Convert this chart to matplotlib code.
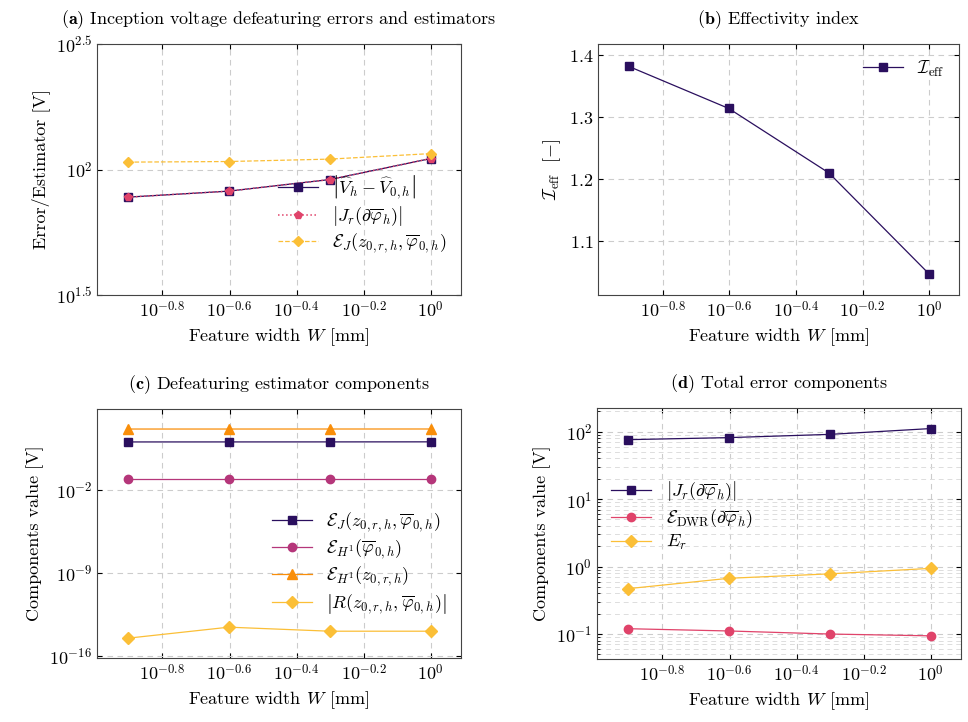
import matplotlib
matplotlib.use("Agg")
import matplotlib.pyplot as plt
import numpy as np

plt.rcParams.update({
    "font.family": "serif", "font.serif": ["cmr10"], "mathtext.fontset": "cm",
    "axes.formatter.use_mathtext": True, "font.size": 13,
    "xtick.direction": "in", "ytick.direction": "in",
    "axes.edgecolor": "#444444", "axes.unicode_minus": False,
})

W = [0.125, 0.25, 0.5, 1.0]
err_a = [77.6, 82.0, 91.2, 110.6]
jr_a = [77.6, 82.0, 91.2, 110.6]
est_a = [107.0, 107.6, 110.0, 115.7]
ieff = [1.382, 1.314, 1.210, 1.047]
ej_c = [105.0, 105.5, 106.0, 107.0]
eh1phi_c = [0.085, 0.085, 0.085, 0.085]
eh1z_c = [1290.0, 1290.0, 1295.0, 1300.0]
r_c = [10**-14.53, 10**-13.6, 10**-13.94, 10**-13.94]
jr_d = [76.0, 81.5, 91.0, 111.0]
dwr_d = [0.12, 0.111, 0.10, 0.094]
er_d = [0.47, 0.67, 0.78, 0.94]

xt = [10**-0.8, 10**-0.6, 10**-0.4, 10**-0.2, 1.0]
xtl = [r"$10^{-0.8}$", r"$10^{-0.6}$", r"$10^{-0.4}$", r"$10^{-0.2}$", r"$10^{0}$"]

C1 = "#2a0f5e"; C2 = "#e0436a"; C3 = "#fbbf37"; C4 = "#b5367a"; C5 = "#f98e09"

fig = plt.figure(figsize=(9.68, 7.22), dpi=100)
def mk(l, b, r, t):
    return fig.add_axes([l/968, 1-b/722, (r-l)/968, (b-t)/722])
axa = mk(97, 295, 461, 44); axb = mk(598, 295, 959, 44)
axc = mk(97, 658, 461, 409); axd = mk(597, 659, 961, 408)

for ax in (axa, axb, axc, axd):
    ax.set_xscale("log")
    ax.set_xlim(10**-0.995, 10**0.09)
    ax.set_xticks(xt); ax.set_xticklabels(xtl)
    ax.xaxis.set_minor_locator(matplotlib.ticker.NullLocator())
    ax.set_xlabel(r"Feature width $W$ [mm]")
    ax.grid(True, ls=(0, (5, 4)), color="#cccccc", lw=0.8)
    ax.tick_params(top=True, right=True)

def leg(ax, **kw):
    ax.legend(frameon=False, handlelength=2.2, borderpad=0.3, labelspacing=0.2,
              fontsize=13, **kw)

MS = 6
# (a)
axa.set_yscale("log")
axa.set_ylim(10**1.5, 10**2.5)
axa.set_yticks([10**1.5, 100, 10**2.5]); axa.set_yticklabels([r"$10^{1.5}$", r"$10^{2}$", r"$10^{2.5}$"])
axa.yaxis.set_minor_locator(matplotlib.ticker.NullLocator())
axa.plot(W, err_a, color=C1, marker="s", ms=MS, lw=0.9,
         label=r"$\left|\widehat{V}_h-\widehat{V}_{0,h}\right|$")
axa.plot(W, jr_a, color=C2, marker="p", ms=MS, lw=1.1, ls=":", label=r"$\left|J_r(\partial\overline{\varphi}_h)\right|$")
axa.plot(W, est_a, color=C3, marker="D", ms=MS-0.5, lw=0.9, ls="--", label=r"$\mathcal{E}_J(z_{0,r,h},\overline{\varphi}_{0,h})$")
axa.set_ylabel("Error/Estimator [V]")
axa.set_title(r"$\mathbf{(a)}$ Inception voltage defeaturing errors and estimators", fontsize=13, pad=14)
leg(axa, loc="lower right", bbox_to_anchor=(1.0, 0.1))

# (b)
axb.plot(W, ieff, color=C1, marker="s", ms=MS, lw=0.9, label=r"$\mathcal{I}_{\mathrm{eff}}$")
axb.set_ylim(1.013, 1.418)
axb.set_yticks([1.1, 1.2, 1.3, 1.4])
axb.set_ylabel(r"$\mathcal{I}_{\mathrm{eff}}$  $[-]$")
axb.set_title(r"$\mathbf{(b)}$ Effectivity index", fontsize=13, pad=14)
leg(axb, loc="upper right")

# (c)
axc.set_yscale("log")
axc.set_ylim(10**-16.2, 10**4.8)
axc.set_yticks([1e-16, 1e-9, 1e-2])
axc.yaxis.set_minor_locator(matplotlib.ticker.NullLocator())
axc.plot(W, ej_c, color=C1, marker="s", ms=MS, lw=0.9, label=r"$\mathcal{E}_J(z_{0,r,h},\overline{\varphi}_{0,h})$")
axc.plot(W, eh1phi_c, color=C4, marker="o", ms=MS, lw=0.9, label=r"$\mathcal{E}_{H^1}(\overline{\varphi}_{0,h})$")
axc.plot(W, eh1z_c, color=C5, marker="^", ms=MS+1, lw=0.9, label=r"$\mathcal{E}_{H^1}(z_{0,r,h})$")
axc.plot(W, r_c, color=C3, marker="D", ms=MS, lw=0.9, label=r"$\left|R(z_{0,r,h},\overline{\varphi}_{0,h})\right|$")
axc.set_ylabel("Components value [V]")
axc.set_title(r"$\mathbf{(c)}$ Defeaturing estimator components", fontsize=13, pad=14)
leg(axc, loc="center right", bbox_to_anchor=(1.0, 0.38))

# (d)
axd.set_yscale("log")
axd.set_ylim(10**-1.37, 10**2.35)
axd.set_yticks([0.1, 1, 10, 100])
axd.grid(True, which="minor", ls=(0, (5, 4)), color="#dddddd", lw=0.7)
axd.plot(W, jr_d, color=C1, marker="s", ms=MS, lw=0.9, label=r"$\left|J_r(\partial\overline{\varphi}_h)\right|$")
axd.plot(W, dwr_d, color=C2, marker="o", ms=MS, lw=0.9, label=r"$\mathcal{E}_{\mathrm{DWR}}(\partial\overline{\varphi}_h)$")
axd.plot(W, er_d, color=C3, marker="D", ms=MS, lw=0.9, label=r"$E_r$")
axd.set_ylabel("Components value [V]")
axd.set_title(r"$\mathbf{(d)}$ Total error components", fontsize=13, pad=14)
leg(axd, loc="center left", bbox_to_anchor=(0.0, 0.57))

fig.savefig("out.png", dpi=100)
